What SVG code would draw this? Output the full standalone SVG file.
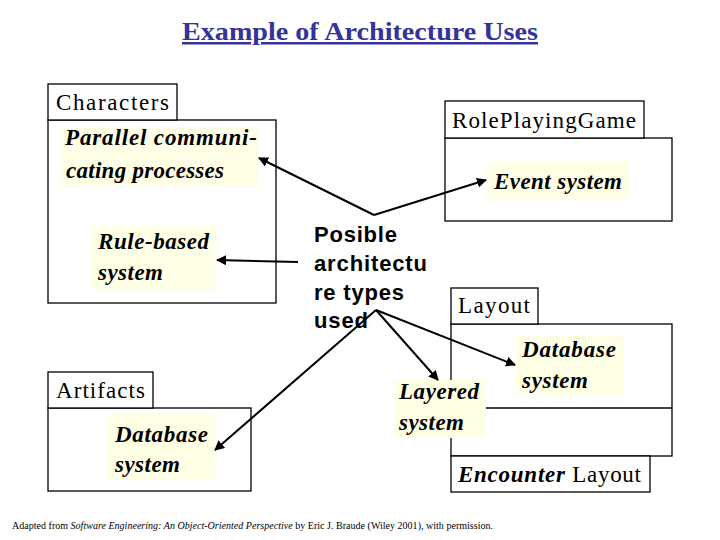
<svg xmlns="http://www.w3.org/2000/svg" width="720" height="540" viewBox="0 0 720 540">
<style>
.box{fill:#fff;stroke:#000;stroke-width:1.3}
.hl{fill:#FFFFE6}
.tab{font-family:"Liberation Serif",serif;font-size:23px;fill:#000}
.it{font-family:"Liberation Serif",serif;font-size:23px;font-style:italic;font-weight:bold;fill:#000}
.sans{font-family:"Liberation Sans",sans-serif;font-size:22px;font-weight:bold;fill:#000}
.title{font-family:"Liberation Serif",serif;font-size:25px;font-weight:bold;fill:#333399;text-decoration:underline}
.foot{font-family:"Liberation Serif",serif;font-size:10px;fill:#000}
.con{stroke:#000;stroke-width:2;fill:none}
</style>
<defs>
<marker id="ah" viewBox="0 0 10 10" refX="9" refY="5" markerWidth="5" markerHeight="5" orient="auto" markerUnits="strokeWidth">
<path d="M0,0 L10,5 L0,10 z" fill="#000"/>
</marker>
</defs>
<rect width="720" height="540" fill="#fff"/>
<text class="title" x="182" y="40" textLength="356" lengthAdjust="spacingAndGlyphs">Example of Architecture Uses</text>

<g id="characters">
<rect class="box" x="48" y="120" width="228" height="183"/>
<rect class="box" x="48" y="84" width="129" height="36"/>
<text class="tab" x="56" y="110" textLength="113" lengthAdjust="spacing">Characters</text>
</g>
<g id="parallel">
<rect class="hl" x="61" y="127" width="197" height="59"/>
<text class="it" x="65" y="145" textLength="192" lengthAdjust="spacing">Parallel communi-</text>
<text class="it" x="66" y="178" textLength="158" lengthAdjust="spacing">cating processes</text>
</g>
<g id="rulebased">
<rect class="hl" x="92" y="226" width="124" height="64"/>
<text class="it" x="98" y="249" textLength="111" lengthAdjust="spacing">Rule-based</text>
<text class="it" x="98" y="280" textLength="65" lengthAdjust="spacing">system</text>
</g>

<g id="roleplayinggame">
<rect class="box" x="445" y="138" width="227" height="83"/>
<rect class="box" x="445" y="101" width="199" height="37"/>
<text class="tab" x="452" y="128" textLength="184" lengthAdjust="spacing">RolePlayingGame</text>
</g>
<g id="eventsystem">
<rect class="hl" x="487" y="162" width="143" height="38"/>
<text class="it" x="494" y="189" textLength="128" lengthAdjust="spacing">Event system</text>
</g>

<g id="layout">
<rect class="box" x="451" y="324" width="221" height="132"/>
<line x1="451" y1="408" x2="672" y2="408" stroke="#000" stroke-width="1.3"/>
<rect class="box" x="451" y="288" width="87" height="36"/>
<text class="tab" x="458" y="313" textLength="72" lengthAdjust="spacing">Layout</text>
</g>
<g id="encounterlayout">
<rect class="box" x="451" y="456" width="199" height="36"/>
<text class="tab" x="458" y="482" textLength="183" lengthAdjust="spacing"><tspan font-style="italic" font-weight="bold">Encounter</tspan> Layout</text>
</g>
<g id="database-right">
<rect class="hl" x="515" y="336" width="108" height="59"/>
<text class="it" x="522" y="357" textLength="94" lengthAdjust="spacing">Database</text>
<text class="it" x="522" y="388" textLength="66" lengthAdjust="spacing">system</text>
</g>
<g id="layered">
<rect class="hl" x="395" y="380" width="91" height="58"/>
<text class="it" x="399" y="399" textLength="80" lengthAdjust="spacing">Layered</text>
<text class="it" x="399" y="430" textLength="65" lengthAdjust="spacing">system</text>
</g>

<g id="artifacts">
<rect class="box" x="48" y="408" width="203" height="83"/>
<rect class="box" x="48" y="372" width="105" height="36"/>
<text class="tab" x="56" y="398" textLength="89" lengthAdjust="spacing">Artifacts</text>
</g>
<g id="database-left">
<rect class="hl" x="108" y="414" width="107" height="66"/>
<text class="it" x="115" y="442" textLength="93" lengthAdjust="spacing">Database</text>
<text class="it" x="115" y="472" textLength="65" lengthAdjust="spacing">system</text>
</g>

<g id="possible">
<text class="sans" x="314" y="242" textLength="83" lengthAdjust="spacing">Posible</text>
<text class="sans" x="314" y="271" textLength="113" lengthAdjust="spacing">architectu</text>
<text class="sans" x="314" y="300" textLength="90" lengthAdjust="spacing">re types</text>
<text class="sans" x="314" y="328" textLength="54" lengthAdjust="spacing">used</text>
</g>

<g id="connectors">
<polyline class="con" points="374,215 259,158" marker-end="url(#ah)"/>
<polyline class="con" points="374,215 486,180" marker-end="url(#ah)"/>
<line class="con" x1="298" y1="262" x2="217" y2="260" marker-end="url(#ah)"/>
<line class="con" x1="376" y1="310" x2="215" y2="450" marker-end="url(#ah)"/>
<line class="con" x1="376" y1="310" x2="438" y2="380" marker-end="url(#ah)"/>
<line class="con" x1="376" y1="310" x2="515" y2="365" marker-end="url(#ah)"/>
</g>

<text class="foot" x="12" y="529" textLength="481" lengthAdjust="spacing">Adapted from <tspan font-style="italic">Software Engineering: An Object-Oriented Perspective</tspan> by Eric J. Braude (Wiley 2001), with permission.</text>
</svg>
